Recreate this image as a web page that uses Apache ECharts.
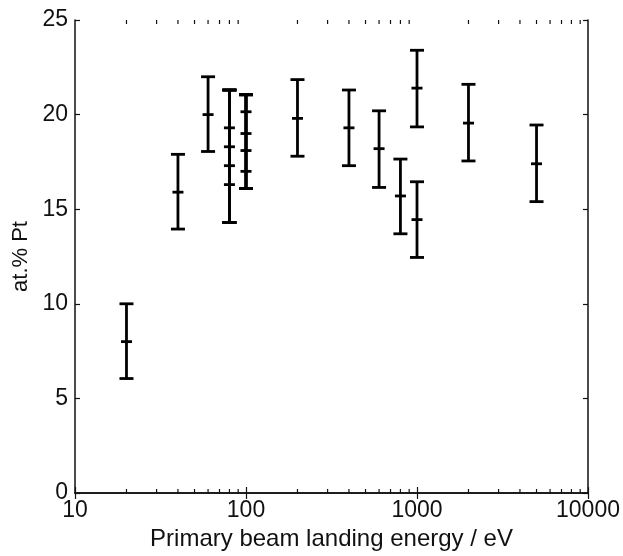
<!DOCTYPE html>
<html lang="en">
<head>
  <meta charset="UTF-8">
  <title>at.% Pt vs landing energy</title>
  <style>
    html, body { margin: 0; padding: 0; background: #fff; }
    #chart { width: 623px; height: 556px; }
  </style>
</head>
<body>
  <div id="chart"></div>
  <script src="https://cdn.jsdelivr.net/npm/echarts@6/dist/echarts.min.js"></script>
  <script>
    // primary beam landing energy (eV) and measured at.% Pt
    var energy = [20, 40, 60, 80, 80, 80, 80, 100, 100, 100, 100, 200, 400, 600, 800, 1000, 1000, 2000, 5000];
    var atPt   = [8.0, 15.9, 20.0, 19.3, 18.3, 17.3, 16.3, 20.15, 19.0, 18.1, 17.0, 19.8, 19.3, 18.2, 15.7, 21.4, 14.45, 19.55, 17.4];
    var errLow  = [6.05, 13.95, 18.05, 14.3, 14.3, 14.3, 14.3, 16.1, 16.1, 16.1, 16.1, 17.8, 17.3, 16.15, 13.7, 19.35, 12.45, 17.55, 15.4];
    var errHigh = [10.0, 17.9, 22.0, 21.3, 21.3, 21.3, 21.3, 21.05, 21.05, 21.05, 21.05, 21.85, 21.3, 20.2, 17.65, 23.4, 16.45, 21.6, 19.45];

    var xTickLabels = [10, 100, 1000, 10000];
    var yTicks = [0, 5, 10, 15, 20, 25];

    // minor log ticks: 2..9 in each decade
    var minorTicks = [];
    [10, 100, 1000].forEach(function (d) {
      for (var m = 2; m <= 9; m++) minorTicks.push(d * m);
    });

    var barData = energy.map(function (e, i) {
      return [e, atPt[i], errLow[i], errHigh[i]];
    });

    var black = '#111';
    var font = 'Liberation Sans, Arial, sans-serif';

    var chart = echarts.init(document.getElementById('chart'));

    var option = {
      animation: false,
      backgroundColor: '#fff',
      grid: { left: 75, right: 35, top: 20, bottom: 63 },
      xAxis: [{
        type: 'log',
        logBase: 10,
        min: 10,
        max: 10000,
        interval: 1,
        name: 'Primary beam landing energy / eV',
        nameLocation: 'middle',
        nameGap: 29,
        nameTextStyle: { color: black, fontSize: 24, fontFamily: font },
        axisLine: { lineStyle: { color: black, width: 1.5 } },
        axisTick: { inside: true, length: 6, lineStyle: { color: black, width: 1.2 } },
        axisLabel: {
          color: black, fontSize: 23, fontFamily: font, margin: 6,
          formatter: function (v) {
            var r = Math.round(v);
            return xTickLabels.indexOf(r) >= 0 ? String(r) : '';
          }
        },
        splitLine: { show: false }
      }, {
        type: 'log',
        logBase: 10,
        min: 10,
        max: 10000,
        interval: 1,
        position: 'top',
        axisLine: { lineStyle: { color: black, width: 1.5 } },
        axisTick: { inside: true, length: 6, lineStyle: { color: black, width: 1.2 } },
        axisLabel: { show: false },
        splitLine: { show: false }
      }],
      yAxis: [{
        type: 'value',
        min: yTicks[0],
        max: yTicks[yTicks.length - 1],
        interval: 5,
        name: 'at.% Pt',
        nameLocation: 'middle',
        nameGap: 42,
        nameTextStyle: { color: black, fontSize: 22, fontFamily: font },
        axisLine: { show: true, lineStyle: { color: black, width: 1.5 } },
        axisTick: { show: true, inside: true, length: 5, lineStyle: { color: black, width: 1.2 } },
        axisLabel: { color: black, fontSize: 23, fontFamily: font, margin: 7 },
        splitLine: { show: false }
      }, {
        type: 'value',
        min: yTicks[0],
        max: yTicks[yTicks.length - 1],
        interval: 5,
        position: 'right',
        axisLine: { show: true, lineStyle: { color: black, width: 1.5 } },
        axisTick: { show: true, inside: true, length: 5, lineStyle: { color: black, width: 1.2 } },
        axisLabel: { show: false },
        splitLine: { show: false }
      }],
      series: [{
        // minor ticks on bottom and top frame edges
        type: 'custom',
        xAxisIndex: 0,
        yAxisIndex: 0,
        silent: true,
        data: minorTicks.map(function (v) { return [v]; }),
        renderItem: function (params, api) {
          var bottom = api.coord([api.value(0), 0]);
          var top = api.coord([api.value(0), 25]);
          var style = { stroke: black, lineWidth: 1.2 };
          return {
            type: 'group',
            children: [
              { type: 'line', shape: { x1: bottom[0], y1: bottom[1], x2: bottom[0], y2: bottom[1] - 4 }, style: style },
              { type: 'line', shape: { x1: top[0], y1: top[1], x2: top[0], y2: top[1] + 4 }, style: style }
            ]
          };
        }
      }, {
        // error bars with centre marks
        type: 'custom',
        xAxisIndex: 0,
        yAxisIndex: 0,
        data: barData,
        renderItem: function (params, api) {
          var x = api.value(0);
          var mid = api.coord([x, api.value(1)]);
          var lo = api.coord([x, api.value(2)]);
          var hi = api.coord([x, api.value(3)]);
          var capW = 7, tickW = 5.5;
          var style = { stroke: '#000', lineWidth: 2.8 };
          return {
            type: 'group',
            children: [
              { type: 'line', shape: { x1: lo[0], y1: lo[1], x2: hi[0], y2: hi[1] }, style: style },
              { type: 'line', shape: { x1: hi[0] - capW, y1: hi[1], x2: hi[0] + capW, y2: hi[1] }, style: style },
              { type: 'line', shape: { x1: lo[0] - capW, y1: lo[1], x2: lo[0] + capW, y2: lo[1] }, style: style },
              { type: 'line', shape: { x1: mid[0] - tickW, y1: mid[1], x2: mid[0] + tickW, y2: mid[1] }, style: style }
            ]
          };
        }
      }]
    };

    chart.setOption(option);
  </script>
</body>
</html>
